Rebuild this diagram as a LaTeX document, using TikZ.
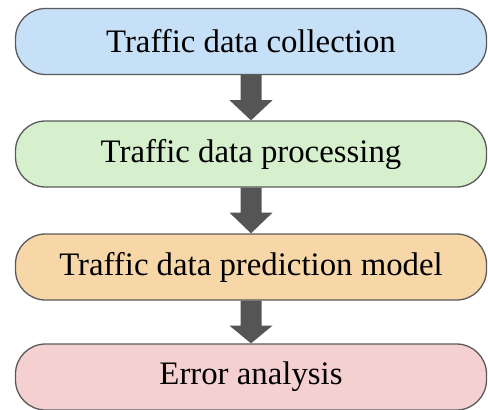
\documentclass[tikz,border=0pt]{standalone}
\usepackage{fontspec}
\setmainfont{Liberation Serif}
\definecolor{cblue}{HTML}{C6E0F8}
\definecolor{cgreen}{HTML}{D6F0CD}
\definecolor{corange}{HTML}{F7D7A8}
\definecolor{cpink}{HTML}{F5D0D0}
\definecolor{cborder}{HTML}{5A5A5A}
\definecolor{carrow}{HTML}{555555}
\begin{document}
\begin{tikzpicture}[x=1pt,y=-1pt,
  stage/.style={draw=cborder, line width=1.3pt, rounded corners=30pt,
    minimum width=471pt, minimum height=66pt, inner sep=0pt,
    font=\fontsize{32.8}{38}\selectfont},
  flowarrow/.style={fill=carrow, draw=none}]
\useasboundingbox (0,0) rectangle (488,410);
\node[stage, fill=cblue]   (a) at (251,41.5)  {Traffic data collection};
\node[stage, fill=cgreen]  (b) at (251,154)   {Traffic data processing};
\node[stage, fill=corange] (c) at (251,267)   {Traffic data prediction model};
\node[stage, fill=cpink]   (d) at (251,377)   {Error analysis};
\foreach \u/\v in {a/b, b/c, c/d}{
  \path[flowarrow] ([xshift=-10.5pt]\u.south) -- ([xshift=-10.5pt,yshift=-25pt]\u.south)
    -- ([xshift=-21.5pt,yshift=-25pt]\u.south) -- (\v.north)
    -- ([xshift=21.5pt,yshift=-25pt]\u.south) -- ([xshift=10.5pt,yshift=-25pt]\u.south)
    -- ([xshift=10.5pt]\u.south) -- cycle;
}
\end{tikzpicture}
\end{document}
